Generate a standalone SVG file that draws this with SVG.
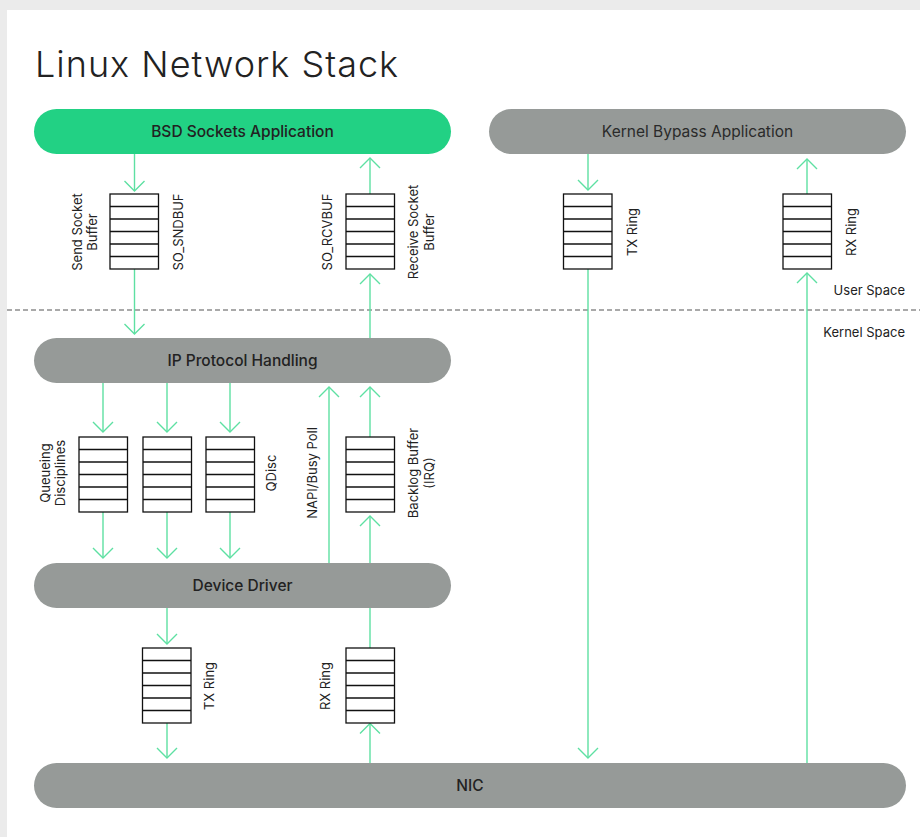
<svg xmlns="http://www.w3.org/2000/svg" width="920" height="837" viewBox="0 0 920 837">
<defs>
<style>
.bg{fill:#ebebeb}
.panel{fill:#ffffff}
.title{font-family:Inter,"Noto Sans","Liberation Sans",sans-serif;font-size:36px;font-weight:300;fill:#222;letter-spacing:1px}
.pill-g{fill:#22d184}
.pill{fill:#969a98}
.bl{font-family:Inter,"Noto Sans","Liberation Sans",sans-serif;font-size:15.5px;font-weight:500;fill:#222;text-anchor:middle}
.blr{font-family:Inter,"Noto Sans","Liberation Sans",sans-serif;font-size:15.5px;font-weight:400;fill:#2a2a2a;text-anchor:middle}
.lbl{font-family:Inter,"Noto Sans","Liberation Sans",sans-serif;font-size:13px;fill:#222;text-anchor:middle}
.lblr{font-family:Inter,"Noto Sans","Liberation Sans",sans-serif;font-size:13px;fill:#222;text-anchor:end}
.buf{fill:#fff;stroke:#111;stroke-width:1.3}
.row{stroke:#111;stroke-width:1.3}
.c{stroke:#5ee0a2;stroke-width:1.4;fill:none}
.ca{stroke:#5ee0a2;stroke-width:1.4;fill:none;marker-end:url(#ah)}
.dash{stroke:#555;stroke-width:1.2;stroke-dasharray:5 3}
</style>
<marker id="ah" markerUnits="userSpaceOnUse" markerWidth="24" markerHeight="24" viewBox="-12 -12 24 24" refX="0" refY="0" orient="auto" overflow="visible">
<path d="M-10,-10 L0,0 L-10,10" fill="none" stroke="#5ee0a2" stroke-width="1.4"/>
</marker>
<g id="bufshape">
<rect class="buf" x="0" y="0" width="48.5" height="75"/>
<line class="row" x1="0" y1="12.5" x2="48.5" y2="12.5"/>
<line class="row" x1="0" y1="25" x2="48.5" y2="25"/>
<line class="row" x1="0" y1="37.5" x2="48.5" y2="37.5"/>
<line class="row" x1="0" y1="50" x2="48.5" y2="50"/>
<line class="row" x1="0" y1="62.5" x2="48.5" y2="62.5"/>
</g>
</defs>
<rect class="bg" x="0" y="0" width="920" height="837"/>
<rect class="panel" x="7" y="10" width="913" height="827"/>
<text class="title" x="35" y="77">Linux Network Stack</text>

<line class="dash" x1="7" y1="310" x2="920" y2="310"/>
<text class="lblr" x="905" y="295">User Space</text>
<text class="lblr" x="905" y="337">Kernel Space</text>

<g id="connectors">
<line class="ca" x1="134.5" y1="154" x2="134.5" y2="191"/>
<line class="ca" x1="134.5" y1="269" x2="134.5" y2="334"/>
<line class="ca" x1="370" y1="194" x2="370" y2="158"/>
<line class="ca" x1="370" y1="338" x2="370" y2="274"/>
<line class="ca" x1="588" y1="154" x2="588" y2="190"/>
<line class="ca" x1="588" y1="269" x2="588" y2="758"/>
<line class="ca" x1="807" y1="194" x2="807" y2="159"/>
<line class="ca" x1="807" y1="763" x2="807" y2="273"/>
<line class="ca" x1="103" y1="383" x2="103" y2="432"/>
<line class="ca" x1="167" y1="383" x2="167" y2="432"/>
<line class="ca" x1="230" y1="383" x2="230" y2="432"/>
<line class="ca" x1="103" y1="511" x2="103" y2="558"/>
<line class="ca" x1="167" y1="511" x2="167" y2="558"/>
<line class="ca" x1="230" y1="511" x2="230" y2="558"/>
<line class="ca" x1="329" y1="563" x2="329" y2="387"/>
<line class="ca" x1="370" y1="437" x2="370" y2="387"/>
<line class="ca" x1="370" y1="563" x2="370" y2="516"/>
<line class="ca" x1="167" y1="608" x2="167" y2="644"/>
<line class="ca" x1="167" y1="723" x2="167" y2="758"/>
<line class="c" x1="370" y1="648" x2="370" y2="608"/>
<line class="ca" x1="370" y1="763" x2="370" y2="723.5"/>
</g>

<g id="bsd-app">
<rect class="pill-g" x="34" y="109" width="417" height="45" rx="22.5"/>
<text class="bl" x="242.5" y="137">BSD Sockets Application</text>
</g>
<g id="bypass-app">
<rect class="pill" x="489" y="109" width="417" height="45" rx="22.5"/>
<text class="blr" x="697.5" y="137">Kernel Bypass Application</text>
</g>
<g id="ip">
<rect class="pill" x="34" y="338" width="417" height="45" rx="22.5"/>
<text class="bl" x="242.5" y="366">IP Protocol Handling</text>
</g>
<g id="driver">
<rect class="pill" x="34" y="563" width="417" height="45" rx="22.5"/>
<text class="bl" x="242.5" y="591">Device Driver</text>
</g>
<g id="nic">
<rect class="pill" x="34" y="763" width="872" height="45" rx="22.5"/>
<text class="bl" x="470" y="791">NIC</text>
</g>

<g id="send-buffer">
<use href="#bufshape" x="110" y="194"/>
<text class="lbl" transform="translate(77,232) rotate(-90)" y="4.5">Send Socket</text>
<text class="lbl" transform="translate(92,232) rotate(-90)" y="4.5">Buffer</text>
<text class="lbl" transform="translate(178,232) rotate(-90)" y="4.5">SO_SNDBUF</text>
</g>
<g id="recv-buffer">
<use href="#bufshape" x="346" y="194"/>
<text class="lbl" transform="translate(327,232) rotate(-90)" y="4.5">SO_RCVBUF</text>
<text class="lbl" transform="translate(413,232) rotate(-90)" y="4.5">Receive Socket</text>
<text class="lbl" transform="translate(429,232) rotate(-90)" y="4.5">Buffer</text>
</g>
<g id="bypass-tx">
<use href="#bufshape" x="563.5" y="194"/>
<text class="lbl" transform="translate(632,232) rotate(-90)" y="4.5">TX Ring</text>
</g>
<g id="bypass-rx">
<use href="#bufshape" x="783" y="194"/>
<text class="lbl" transform="translate(851,232) rotate(-90)" y="4.5">RX Ring</text>
</g>
<g id="qdisc">
<use href="#bufshape" x="79" y="437"/>
<use href="#bufshape" x="143" y="437"/>
<use href="#bufshape" x="206" y="437"/>
<text class="lbl" transform="translate(45,473) rotate(-90)" y="4.5">Queueing</text>
<text class="lbl" transform="translate(60,473) rotate(-90)" y="4.5">Disciplines</text>
<text class="lbl" transform="translate(271,473) rotate(-90)" y="4.5">QDisc</text>
</g>
<g id="napi">
<text class="lbl" transform="translate(312,473) rotate(-90)" y="4.5">NAPI/Busy Poll</text>
</g>
<g id="backlog">
<use href="#bufshape" x="346" y="437"/>
<text class="lbl" transform="translate(413,473) rotate(-90)" y="4.5">Backlog Buffer</text>
<text class="lbl" transform="translate(429,473) rotate(-90)" y="4.5">(IRQ)</text>
</g>
<g id="driver-tx">
<use href="#bufshape" x="142.5" y="648"/>
<text class="lbl" transform="translate(209,686) rotate(-90)" y="4.5">TX Ring</text>
</g>
<g id="driver-rx">
<use href="#bufshape" x="346" y="648"/>
<text class="lbl" transform="translate(325,686) rotate(-90)" y="4.5">RX Ring</text>
</g>
</svg>
